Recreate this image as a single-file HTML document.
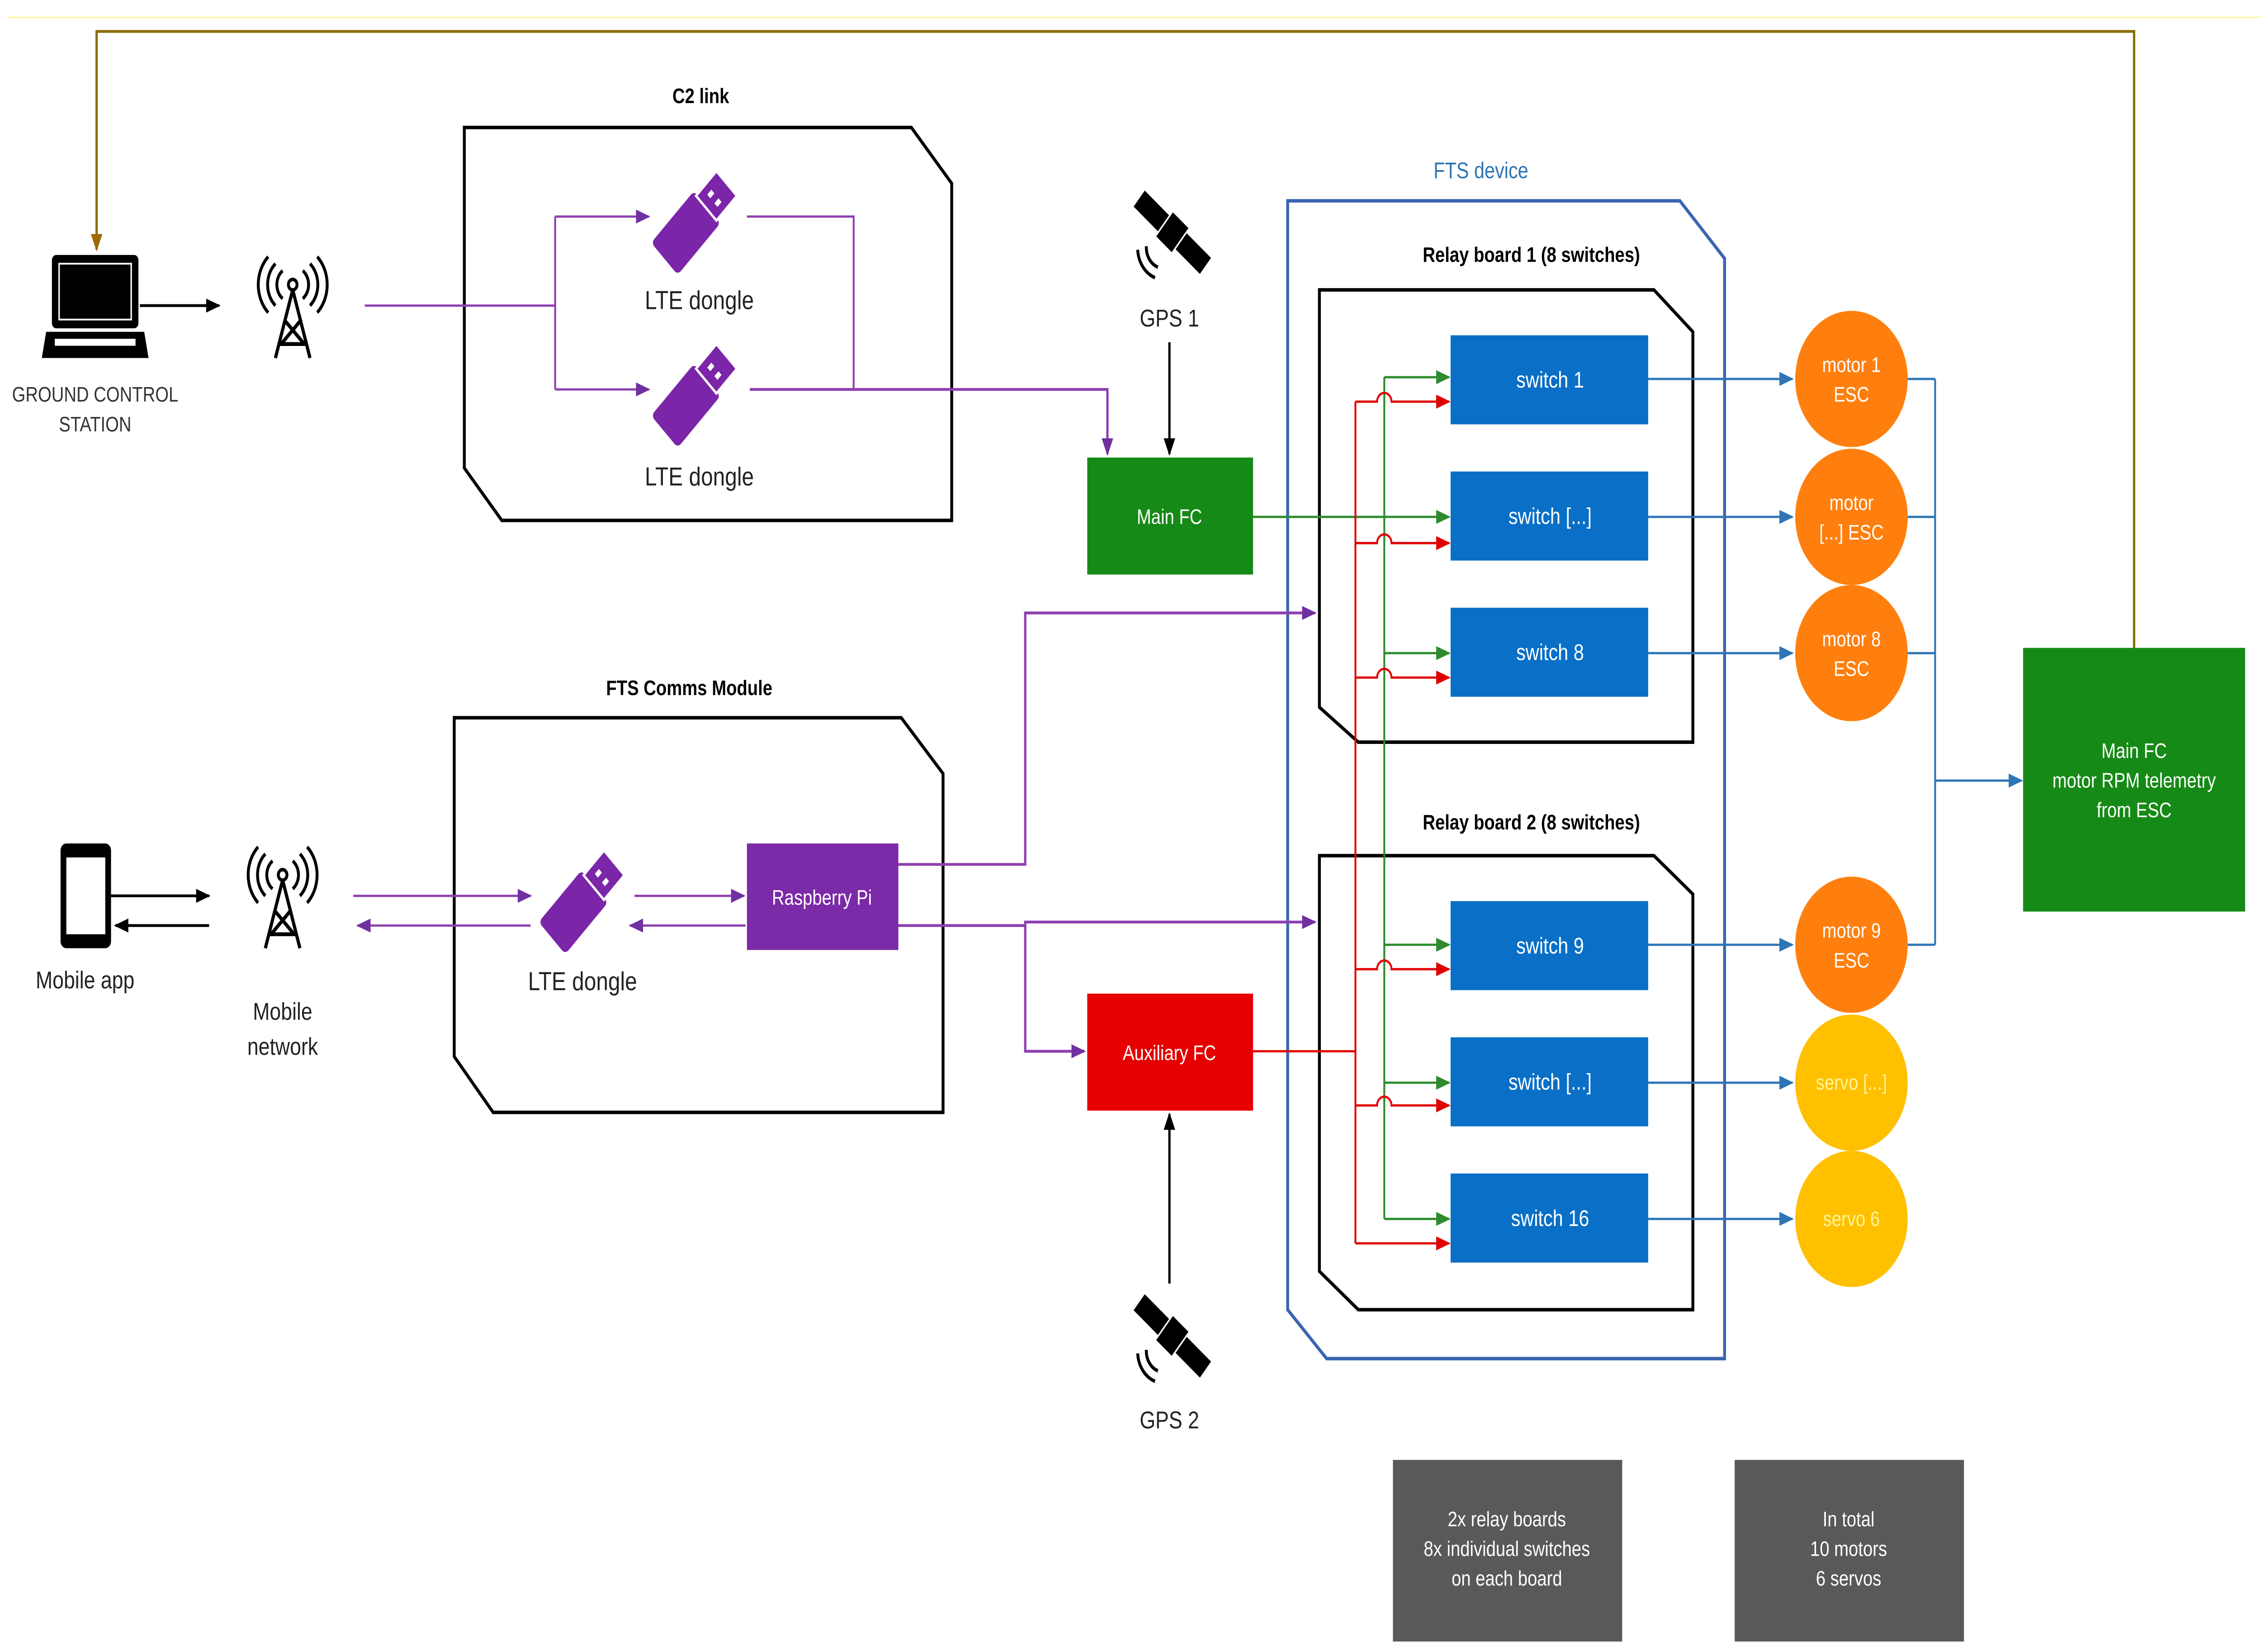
<!DOCTYPE html>
<html><head><meta charset="utf-8"><style>html,body{margin:0;padding:0;background:#fff;overflow:hidden;width:100vw;height:100vh}svg{display:block;position:absolute;left:0;top:0;width:100vw;height:100vh}text{font-family:"Liberation Sans",sans-serif}</style></head><body>
<svg viewBox="0 0 1568 946" preserveAspectRatio="none" xmlns="http://www.w3.org/2000/svg">
<defs>
<marker id="ak" markerWidth="10" markerHeight="10" refX="9" refY="5" orient="auto" markerUnits="userSpaceOnUse"><path d="M0,1 L10,5 L0,9Z" fill="#000"/></marker>
<marker id="ap" markerWidth="10" markerHeight="10" refX="9" refY="5" orient="auto" markerUnits="userSpaceOnUse"><path d="M0,1 L10,5 L0,9Z" fill="#7030a0"/></marker>
<marker id="ag" markerWidth="10" markerHeight="10" refX="9" refY="5" orient="auto" markerUnits="userSpaceOnUse"><path d="M0,1 L10,5 L0,9Z" fill="#2e8b2e"/></marker>
<marker id="ar" markerWidth="10" markerHeight="10" refX="9" refY="5" orient="auto" markerUnits="userSpaceOnUse"><path d="M0,1 L10,5 L0,9Z" fill="#e00000"/></marker>
<marker id="ab" markerWidth="10" markerHeight="10" refX="9" refY="5" orient="auto" markerUnits="userSpaceOnUse"><path d="M0,1 L10,5 L0,9Z" fill="#2e75b6"/></marker>
<marker id="ao" markerWidth="10" markerHeight="10" refX="9" refY="5" orient="auto" markerUnits="userSpaceOnUse"><path d="M0,1 L10,5 L0,9Z" fill="#9c6a00"/></marker>
<g id="dongle"><g transform="rotate(-45)"><rect x="-30" y="-13" width="42" height="26" rx="3" fill="#7b25a8"/><rect x="11" y="-10" width="20" height="20" fill="#7b25a8" stroke="#fff" stroke-width="1.5"/><rect x="17" y="-5" width="4" height="3" fill="#fff"/><rect x="17" y="2" width="4" height="3" fill="#fff"/></g></g>
<g id="sat"><g transform="rotate(40)"><rect x="-30" y="-6" width="22" height="12" fill="#000"/><rect x="-7" y="-9" width="14" height="18" fill="#000"/><rect x="8" y="-6" width="22" height="12" fill="#000"/></g><path d="M-18,8 a12,12 0 0 0 8,12" stroke="#000" stroke-width="2" fill="none"/><path d="M-24,10 a18,18 0 0 0 12,16" stroke="#000" stroke-width="2" fill="none"/></g>
<g id="tower"><circle cx="0" cy="-12" r="3" fill="none" stroke="#000" stroke-width="2"/><path d="M-7,-20 a10,10 0 0 0 0,16 M7,-20 a10,10 0 0 1 0,16 M-12,-24 a16,16 0 0 0 0,24 M12,-24 a16,16 0 0 1 0,24 M-17,-28 a22,22 0 0 0 0,32 M17,-28 a22,22 0 0 1 0,32" stroke="#000" stroke-width="2" fill="none"/><path d="M0,-9 L-12,30 M0,-9 L12,30 M-6,8 L8,22 M6,8 L-8,22 M-9,22 L9,22" stroke="#000" stroke-width="2.2" fill="none"/></g>
</defs>
<line x1="5" y1="10" x2="1568" y2="10" stroke="#fff7b0" stroke-width="1"/>
<path d="M1480,371 V18 H67 V143" stroke="#8a6d00" stroke-width="1.6" fill="none" marker-end="url(#ao)"/>
<rect x="36" y="146" width="60" height="42" rx="3" fill="#000"/><rect x="41" y="151" width="50" height="32" fill="none" stroke="#fff" stroke-width="1"/><path d="M32,190 H100 L103,205 H29Z" fill="#000"/><rect x="38" y="194" width="56" height="4" fill="#fff"/>
<line x1="97" y1="175" x2="152" y2="175" stroke="#000" stroke-width="1.6" marker-end="url(#ak)"/>
<text x="66" y="230" font-size="12" text-anchor="middle" fill="#333">GROUND CONTROL</text><text x="66" y="247" font-size="12" text-anchor="middle" fill="#333">STATION</text>
<use href="#tower" x="203" y="175"/>
<text x="486" y="59" font-size="12" font-weight="bold" text-anchor="middle">C2 link</text>
<path d="M322,73 H632 L660,105 V298 H348 L322,268Z" fill="none" stroke="#000" stroke-width="2"/>
<path d="M253,175 H385 M385,124 V223" stroke="#8e3fb0" stroke-width="1.3" fill="none"/>
<line x1="385" y1="124" x2="450" y2="124" stroke="#8e3fb0" stroke-width="1.3" marker-end="url(#ap)"/>
<line x1="385" y1="223" x2="450" y2="223" stroke="#8e3fb0" stroke-width="1.3" marker-end="url(#ap)"/>
<use href="#dongle" x="482" y="127"/><use href="#dongle" x="482" y="226"/>
<text x="485" y="177" font-size="15" text-anchor="middle" fill="#222">LTE dongle</text>
<text x="485" y="278" font-size="15" text-anchor="middle" fill="#222">LTE dongle</text>
<path d="M518,124 H592 V223" stroke="#8e3fb0" stroke-width="1.3" fill="none"/>
<path d="M520,223 H768 V260" stroke="#8e3fb0" stroke-width="1.6" fill="none" marker-end="url(#ap)"/>
<use href="#sat" x="813" y="133"/>
<text x="811" y="187" font-size="14" text-anchor="middle" fill="#222">GPS 1</text>
<line x1="811" y1="196" x2="811" y2="260" stroke="#000" stroke-width="1.6" marker-end="url(#ak)"/>
<rect x="754" y="262" width="115" height="67" fill="#168a16"/>
<text x="811" y="300" font-size="12" text-anchor="middle" fill="#fff">Main FC</text>
<text x="1027" y="102" font-size="13" text-anchor="middle" fill="#2e75b6">FTS device</text>
<path d="M893,115 H1165 L1196,148 V778 H920 L893,750Z" fill="none" stroke="#3b64b0" stroke-width="2"/>
<text x="1062" y="150" font-size="12" font-weight="bold" text-anchor="middle">Relay board 1 (8 switches)</text>
<path d="M915,166 H1147 L1174,190 V425 H942 L915,405Z" fill="none" stroke="#000" stroke-width="2"/>
<text x="1062" y="475" font-size="12" font-weight="bold" text-anchor="middle">Relay board 2 (8 switches)</text>
<path d="M915,490 H1147 L1174,512 V750 H942 L915,728Z" fill="none" stroke="#000" stroke-width="2"/>
<g fill="#0a6fc6">
<rect x="1006" y="192" width="137" height="51"/><rect x="1006" y="270" width="137" height="51"/><rect x="1006" y="348" width="137" height="51"/>
<rect x="1006" y="516" width="137" height="51"/><rect x="1006" y="594" width="137" height="51"/><rect x="1006" y="672" width="137" height="51"/></g>
<g font-size="13" fill="#fff" text-anchor="middle">
<text x="1075" y="222">switch 1</text><text x="1075" y="300">switch [...]</text><text x="1075" y="378">switch 8</text>
<text x="1075" y="546">switch 9</text><text x="1075" y="624">switch [...]</text><text x="1075" y="702">switch 16</text></g>
<path d="M869,296 H960 M960,216 V698" stroke="#2e8b2e" stroke-width="1.3" fill="none"/>
<g stroke="#2e8b2e" stroke-width="1.3" marker-end="url(#ag)">
<line x1="960" y1="216" x2="1005" y2="216"/><line x1="960" y1="296" x2="1005" y2="296"/><line x1="960" y1="374" x2="1005" y2="374"/>
<line x1="960" y1="541" x2="1005" y2="541"/><line x1="960" y1="620" x2="1005" y2="620"/><line x1="960" y1="698" x2="1005" y2="698"/></g>
<path d="M869,602 H940 M940,230 V712" stroke="#e00000" stroke-width="1.3" fill="none"/>
<g stroke="#e00000" stroke-width="1.3" fill="none" marker-end="url(#ar)">
<path d="M940,230 H955 a5,5 0 0 1 10,0 H1005"/><path d="M940,311 H955 a5,5 0 0 1 10,0 H1005"/><path d="M940,388 H955 a5,5 0 0 1 10,0 H1005"/>
<path d="M940,555 H955 a5,5 0 0 1 10,0 H1005"/><path d="M940,633 H955 a5,5 0 0 1 10,0 H1005"/><line x1="940" y1="712" x2="1005" y2="712"/></g>
<g stroke="#2e75b6" stroke-width="1.3" marker-end="url(#ab)">
<line x1="1143" y1="217" x2="1243" y2="217"/><line x1="1143" y1="296" x2="1243" y2="296"/><line x1="1143" y1="374" x2="1243" y2="374"/>
<line x1="1143" y1="541" x2="1243" y2="541"/><line x1="1143" y1="620" x2="1243" y2="620"/><line x1="1143" y1="698" x2="1243" y2="698"/></g>
<g fill="#ff7f0e"><circle cx="1284" cy="217" r="39"/><circle cx="1284" cy="296" r="39"/><circle cx="1284" cy="374" r="39"/><circle cx="1284" cy="541" r="39"/></g>
<g fill="#ffc000"><circle cx="1284" cy="620" r="39"/><circle cx="1284" cy="698" r="39"/></g>
<g font-size="12" fill="#fff" text-anchor="middle">
<text x="1284" y="213">motor 1</text><text x="1284" y="230">ESC</text>
<text x="1284" y="292">motor</text><text x="1284" y="309">[...] ESC</text>
<text x="1284" y="370">motor 8</text><text x="1284" y="387">ESC</text>
<text x="1284" y="537">motor 9</text><text x="1284" y="554">ESC</text>
<text x="1284" y="624" fill="#fff59a">servo [...]</text><text x="1284" y="702" fill="#fff59a">servo 6</text></g>
<path d="M1323,217 H1342 M1323,296 H1342 M1323,374 H1342 M1323,541 H1342 M1342,217 V541" stroke="#2e75b6" stroke-width="1.3" fill="none"/>
<line x1="1342" y1="447" x2="1402" y2="447" stroke="#2e75b6" stroke-width="1.3" marker-end="url(#ab)"/>
<rect x="1403" y="371" width="154" height="151" fill="#168a16"/>
<g font-size="12" fill="#fff" text-anchor="middle"><text x="1480" y="434">Main FC</text><text x="1480" y="451">motor RPM telemetry</text><text x="1480" y="468">from ESC</text></g>
<text x="478" y="398" font-size="12" font-weight="bold" text-anchor="middle">FTS Comms Module</text>
<path d="M315,411 H625 L654,443 V637 H342 L315,605Z" fill="none" stroke="#000" stroke-width="2"/>
<rect x="42" y="483" width="35" height="60" rx="4" fill="#000"/><rect x="46" y="491" width="27" height="44" fill="#fff"/>
<text x="59" y="566" font-size="14" text-anchor="middle" fill="#222">Mobile app</text>
<line x1="77" y1="513" x2="145" y2="513" stroke="#000" stroke-width="1.6" marker-end="url(#ak)"/>
<line x1="145" y1="530" x2="80" y2="530" stroke="#000" stroke-width="1.6" marker-end="url(#ak)"/>
<use href="#tower" x="196" y="513"/>
<text x="196" y="584" font-size="14" text-anchor="middle" fill="#222">Mobile</text><text x="196" y="604" font-size="14" text-anchor="middle" fill="#222">network</text>
<g stroke="#8e3fb0" stroke-width="1.3" marker-end="url(#ap)">
<line x1="245" y1="513" x2="368" y2="513"/><line x1="368" y1="530" x2="248" y2="530"/>
<line x1="440" y1="513" x2="516" y2="513"/><line x1="517" y1="530" x2="437" y2="530"/></g>
<use href="#dongle" x="404" y="516"/>
<text x="404" y="567" font-size="15" text-anchor="middle" fill="#222">LTE dongle</text>
<rect x="518" y="483" width="105" height="61" fill="#7b2aa8"/>
<text x="570" y="518" font-size="12" text-anchor="middle" fill="#fff">Raspberry Pi</text>
<path d="M623,495 H711 V351 H912" stroke="#8e3fb0" stroke-width="1.6" fill="none" marker-end="url(#ap)"/>
<path d="M623,530 H711 V528 H912" stroke="#8e3fb0" stroke-width="1.6" fill="none" marker-end="url(#ap)"/>
<path d="M711,530 V602 H752" stroke="#8e3fb0" stroke-width="1.6" fill="none" marker-end="url(#ap)"/>
<rect x="754" y="569" width="115" height="67" fill="#e60000"/>
<text x="811" y="607" font-size="12" text-anchor="middle" fill="#fff">Auxiliary FC</text>
<line x1="811" y1="735" x2="811" y2="638" stroke="#000" stroke-width="1.6" marker-end="url(#ak)"/>
<use href="#sat" x="813" y="765"/>
<text x="811" y="818" font-size="14" text-anchor="middle" fill="#222">GPS 2</text>
<rect x="966" y="836" width="159" height="104" fill="#595959"/><rect x="1203" y="836" width="159" height="104" fill="#595959"/>
<g font-size="12" fill="#fff" text-anchor="middle">
<text x="1045" y="874">2x relay boards</text><text x="1045" y="891">8x individual switches</text><text x="1045" y="908">on each board</text>
<text x="1282" y="874">In total</text><text x="1282" y="891">10 motors</text><text x="1282" y="908">6 servos</text></g>
</svg>
</body></html>
